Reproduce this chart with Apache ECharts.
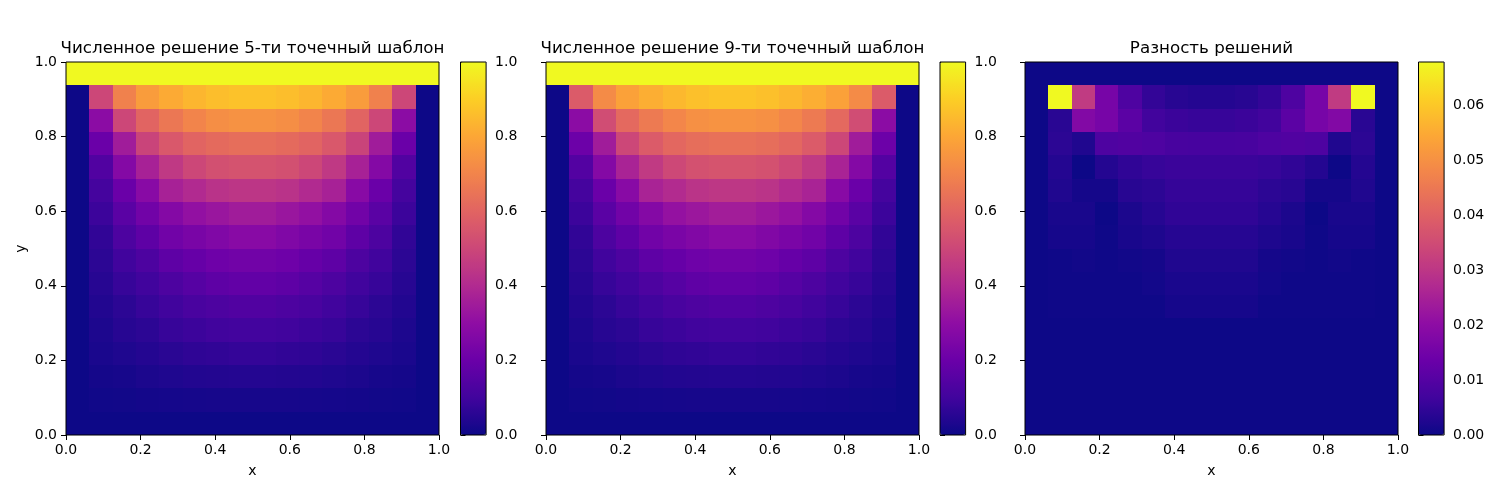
<!DOCTYPE html>
<html>
<head>
<meta charset="utf-8">
<script src="https://cdn.jsdelivr.net/npm/echarts@6/dist/echarts.min.js"></script>
<style>
html, body { margin: 0; padding: 0; background: #fff; }
#chart { width: 1500px; height: 500px; }
</style>
</head>
<body>
<div id="chart"></div>
<script>
var titles = ['Численное решение 5-ти точечный шаблон', 'Численное решение 9-ти точечный шаблон', 'Разность решений'];
var axisTicks = [0, 0.2, 0.4, 0.6, 0.8, 1.0];
var solTicks = [0, 0.2, 0.4, 0.6, 0.8, 1.0];
var diffTicks = [0, 0.01, 0.02, 0.03, 0.04, 0.05, 0.06];
var diffMax = 0.0678;

// rows from top (y = 1) to bottom (y = 0), columns from x = 0 to x = 1
var u5 = [
  [1, 1, 1, 1, 1, 1, 1, 1, 1, 1, 1, 1, 1, 1, 1, 1],
  [0, .50, .69, .77, .81, .84, .86, .87, .87, .86, .84, .81, .77, .69, .50, 0],
  [0, .29, .50, .60, .66, .70, .73, .74, .74, .73, .70, .66, .60, .50, .29, 0],
  [0, .20, .35, .49, .56, .60, .62, .63, .63, .62, .60, .56, .49, .35, .20, 0],
  [0, .14, .27, .37, .45, .50, .53, .54, .54, .53, .50, .45, .37, .27, .14, 0],
  [0, .11, .20, .28, .37, .40, .43, .44, .44, .43, .40, .37, .28, .20, .11, 0],
  [0, .09, .16, .22, .27, .31, .33, .35, .35, .33, .31, .27, .22, .16, .09, 0],
  [0, .07, .13, .17, .22, .24, .26, .28, .28, .26, .24, .22, .17, .13, .07, 0],
  [0, .06, .10, .13, .17, .19, .21, .22, .22, .21, .19, .17, .13, .10, .06, 0],
  [0, .05, .08, .10, .13, .15, .17, .18, .18, .17, .15, .13, .10, .08, .05, 0],
  [0, .04, .06, .08, .10, .12, .13, .14, .14, .13, .12, .10, .08, .06, .04, 0],
  [0, .03, .05, .06, .08, .09, .10, .105, .105, .10, .09, .08, .06, .05, .03, 0],
  [0, .025, .035, .045, .055, .065, .07, .075, .075, .07, .065, .055, .045, .035, .025, 0],
  [0, .015, .02, .028, .035, .04, .042, .045, .045, .042, .04, .035, .028, .02, .015, 0],
  [0, .008, .01, .013, .016, .018, .02, .02, .02, .02, .018, .016, .013, .01, .008, 0],
  [0, 0, 0, 0, 0, 0, 0, 0, 0, 0, 0, 0, 0, 0, 0, 0]
];

var u9 = [
  [1, 1, 1, 1, 1, 1, 1, 1, 1, 1, 1, 1, 1, 1, 1, 1],
  [0, .57, .72, .785, .82, .845, .865, .875, .875, .865, .845, .82, .785, .72, .57, 0],
  [0, .29, .52, .615, .67, .705, .735, .745, .745, .735, .705, .67, .615, .52, .29, 0],
  [0, .205, .35, .50, .57, .61, .63, .64, .64, .63, .61, .57, .50, .35, .205, 0],
  [0, .145, .27, .375, .455, .505, .535, .545, .545, .535, .505, .455, .375, .27, .145, 0],
  [0, .11, .20, .28, .375, .405, .435, .445, .445, .435, .405, .375, .28, .20, .11, 0],
  [0, .09, .16, .22, .27, .315, .335, .355, .355, .335, .315, .27, .22, .16, .09, 0],
  [0, .07, .13, .17, .22, .242, .263, .283, .283, .263, .242, .22, .17, .13, .07, 0],
  [0, .06, .10, .13, .17, .19, .212, .222, .222, .212, .19, .17, .13, .10, .06, 0],
  [0, .05, .08, .10, .13, .15, .172, .182, .182, .172, .15, .13, .10, .08, .05, 0],
  [0, .04, .06, .08, .10, .12, .131, .141, .141, .131, .12, .10, .08, .06, .04, 0],
  [0, .03, .05, .06, .08, .09, .10, .105, .105, .10, .09, .08, .06, .05, .03, 0],
  [0, .025, .035, .045, .055, .065, .07, .075, .075, .07, .065, .055, .045, .035, .025, 0],
  [0, .015, .02, .028, .035, .04, .042, .045, .045, .042, .04, .035, .028, .02, .015, 0],
  [0, .008, .01, .013, .016, .018, .02, .02, .02, .02, .018, .016, .013, .01, .008, 0],
  [0, 0, 0, 0, 0, 0, 0, 0, 0, 0, 0, 0, 0, 0, 0, 0]
];

var diff = [
  [0, 0, 0, 0, 0, 0, 0, 0, 0, 0, 0, 0, 0, 0, 0, 0],
  [0, .0678, .031, .016, .009, .005, .0035, .003, .003, .0035, .005, .009, .016, .031, .0678, 0],
  [0, .0037, .018, .016, .011, .007, .006, .0055, .0055, .006, .007, .011, .016, .018, .0037, 0],
  [0, .004, .0025, .009, .0095, .009, .008, .0078, .0078, .008, .009, .0095, .009, .0025, .004, 0],
  [0, .003, 0, .003, .0045, .0055, .006, .006, .006, .006, .0055, .0045, .003, 0, .003, 0],
  [0, .0025, .001, .001, .0035, .004, .0052, .0052, .0052, .0052, .004, .0035, .001, .001, .0025, 0],
  [0, .0015, .0015, 0, .002, .0033, .0045, .0045, .0045, .0045, .0033, .002, 0, .0015, .0015, 0],
  [0, .0012, .0012, .0003, .0015, .0022, .0033, .0033, .0033, .0033, .0022, .0015, .0003, .0012, .0012, 0],
  [0, .0003, .0006, .0003, .0006, .001, .0025, .0025, .0025, .0025, .001, .0006, .0003, .0006, .0003, 0],
  [0, .0002, .0002, .0002, .0002, .0008, .0017, .0017, .0017, .0017, .0008, .0002, .0002, .0002, .0002, 0],
  [0, .0002, .0002, .0002, .0002, .0002, .0012, .0012, .0012, .0012, .0002, .0002, .0002, .0002, .0002, 0],
  [0, 0, 0, 0, 0, 0, 0, 0, 0, 0, 0, 0, 0, 0, 0, 0],
  [0, 0, 0, 0, 0, 0, 0, 0, 0, 0, 0, 0, 0, 0, 0, 0],
  [0, 0, 0, 0, 0, 0, 0, 0, 0, 0, 0, 0, 0, 0, 0, 0],
  [0, 0, 0, 0, 0, 0, 0, 0, 0, 0, 0, 0, 0, 0, 0, 0],
  [0, 0, 0, 0, 0, 0, 0, 0, 0, 0, 0, 0, 0, 0, 0, 0]
];

var plasma = ['#0d0887', '#41049d', '#6a00a8', '#8f0da4', '#b12a90', '#cc4778',
              '#e16462', '#f2844b', '#fca636', '#fcce25', '#f0f921'];
var font = 'DejaVu Sans';
var n = 16, step = 1 / n;

var chart = echarts.init(document.getElementById('chart'));

function toCells(rows) {
  var out = [];
  rows.forEach(function (row, r) {
    row.forEach(function (v, c) {
      out.push([c * step, (n - 1 - r) * step, v]);
    });
  });
  return out;
}

// cells snapped to whole pixels so neighbours meet without seams
function renderCell(params, api) {
  var x = api.value(0), y = api.value(1);
  var a = api.coord([x, y + step]);
  var b = api.coord([x + step, y]);
  var x0 = Math.round(a[0]), y0 = Math.round(a[1]);
  var x1 = Math.round(b[0]), y1 = Math.round(b[1]);
  return {
    type: 'rect',
    shape: { x: x0, y: y0, width: x1 - x0, height: y1 - y0 },
    style: { fill: api.visual('color') }
  };
}

var txt = { color: '#000', fontFamily: font, fontSize: 14 };
var tick = { show: true, length: 5, lineStyle: { color: '#000', width: 1 } };

var panelLeft = [66, 546, 1025];
var barLeft = [460.5, 940, 1418.5];
var top0 = 62, side = 373, barW = 25.6;
var data = [u5, u9, diff];
var barMax = [1, 1, diffMax];
var barTicks = [solTicks, solTicks, diffTicks];
var barDigits = [1, 1, 2];

var option = {
  animation: false,
  backgroundColor: '#fff',
  title: [], grid: [], xAxis: [], yAxis: [], series: [], visualMap: []
};

for (var i = 0; i < 3; i++) {
  option.title.push({
    text: titles[i],
    left: panelLeft[i] + side / 2,
    top: 40,
    textAlign: 'center',
    padding: 0,
    textStyle: { color: '#000', fontFamily: font, fontSize: 16.7, fontWeight: 'normal' }
  });
  option.grid.push({
    left: panelLeft[i], top: top0, width: side, height: side,
    show: true, borderColor: '#000', borderWidth: 1, z: 5
  });
  option.grid.push({
    left: barLeft[i], top: top0, width: barW, height: side,
    show: true, borderColor: '#000', borderWidth: 1, z: 5
  });
  option.xAxis.push({
    gridIndex: 2 * i, type: 'value', min: 0, max: 1, interval: 0.2,
    axisLine: { show: false }, axisTick: tick, splitLine: { show: false },
    axisLabel: Object.assign({ margin: 8, formatter: function (v) { return v.toFixed(1); } }, txt),
    name: 'x', nameLocation: 'middle', nameGap: 29, nameTextStyle: txt
  });
  option.xAxis.push({ gridIndex: 2 * i + 1, type: 'value', min: 0, max: 1, show: false });
  option.yAxis.push({
    gridIndex: 2 * i, type: 'value', min: 0, max: 1, interval: 0.2,
    axisLine: { show: false }, axisTick: tick, splitLine: { show: false },
    axisLabel: Object.assign({ show: i === 0, margin: 9, formatter: function (v) { return v.toFixed(1); } }, txt),
    name: i === 0 ? 'y' : '', nameLocation: 'middle', nameGap: 38, nameTextStyle: txt
  });
  (function (d) {
    option.yAxis.push({
      gridIndex: 2 * i + 1, type: 'value', position: 'right', min: 0, max: barMax[i],
      axisLine: { show: false }, splitLine: { show: false },
      axisTick: Object.assign({ customValues: barTicks[i] }, tick),
      axisLabel: Object.assign({ margin: 9, customValues: barTicks[i],
        formatter: function (v) { return v.toFixed(d); } }, txt)
    });
  })(barDigits[i]);
  option.series.push({
    type: 'custom', xAxisIndex: 2 * i, yAxisIndex: 2 * i,
    renderItem: renderCell, data: toCells(data[i]),
    encode: { x: 0, y: 1 }, clip: true, silent: true
  });
  option.visualMap.push({
    type: 'continuous', seriesIndex: i, dimension: 2,
    min: 0, max: barMax[i], calculable: false, hoverLink: false,
    orient: 'vertical', left: barLeft[i], top: top0, padding: 0,
    itemWidth: barW, itemHeight: side, text: null, showLabel: false,
    inRange: { color: plasma }
  });
}

chart.setOption(option);
</script>
</body>
</html>
